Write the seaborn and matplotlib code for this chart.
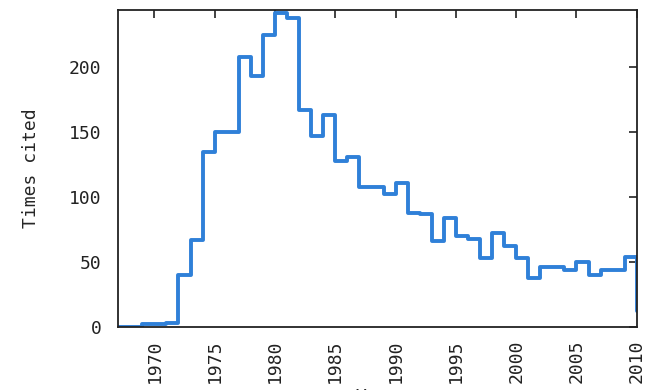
import numpy as np
import pandas as pd
import seaborn as sns
import matplotlib.pyplot as plt

# citations per year
years = list(range(1967, 2011))
cited = [0, 0, 2, 2, 3, 40, 67, 135, 150, 150,
         208, 193, 225, 242, 238, 167, 147, 163, 128, 131,
         108, 108, 102, 111, 88, 87, 66, 84, 70, 68,
         53, 72, 62, 53, 38, 46, 46, 44, 50, 40,
         44, 44, 54, 12]

df = pd.DataFrame({'year': years, 'cited': cited})

sns.set_theme(style="white")
plt.rcParams['font.family'] = ['DejaVu Sans Mono']

fig = plt.figure(figsize=(6.64, 3.9), dpi=100)
ax = fig.add_axes([0.178, 0.162, 0.781, 0.812])

sns.lineplot(data=df, x='year', y='cited', ax=ax, color='#2f80d8',
             linewidth=2.8, drawstyle='steps-post')

ax.set_xlim(1967, 2010)
ax.set_ylim(0, 244)
ax.set_xticks(range(1970, 2011, 5))
ax.set_yticks(range(0, 201, 50))
ax.tick_params(direction='in', length=6, width=1.2, top=True, right=True,
               labelsize=13, colors='#222222')
ax.tick_params(axis='y', pad=12)
ax.tick_params(axis='x', pad=9)
for lbl in ax.get_xticklabels():
    lbl.set_rotation(90)
for s in ax.spines.values():
    s.set_color('#222222')
    s.set_linewidth(1.3)

ax.set_ylabel('Times cited', fontsize=13, labelpad=21)
ax.set_xlabel('Year', fontsize=13, labelpad=4)

fig.savefig('out.png', dpi=100)
